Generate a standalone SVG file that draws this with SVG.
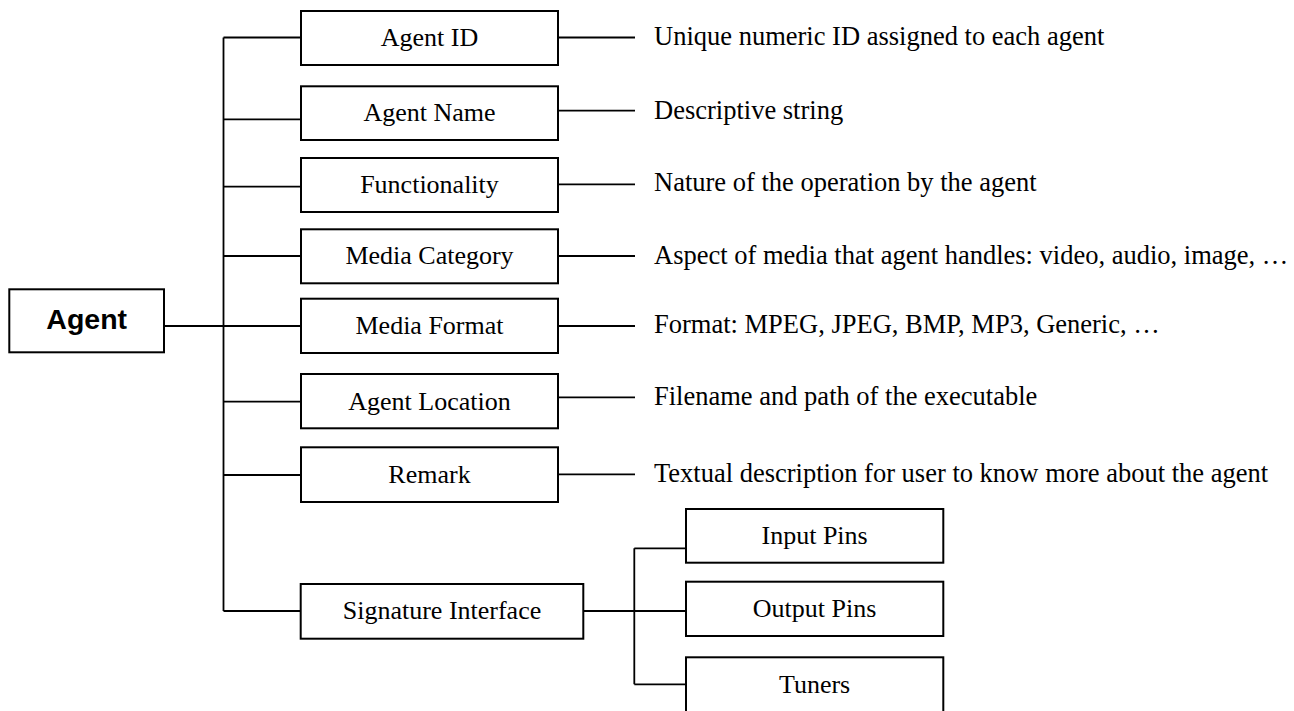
<svg xmlns="http://www.w3.org/2000/svg" width="1294" height="711" viewBox="0 0 1294 711">
<style>
.box{fill:#fff;stroke:#000;stroke-width:2}
.ln{fill:none;stroke:#000;stroke-width:1.8}
.t{font-family:"Liberation Serif","Times New Roman",serif;font-size:26px;fill:#000}
.d{font-size:26.5px}
.c{text-anchor:middle}
.b{font-family:"Liberation Sans",Arial,sans-serif;font-size:28.5px;font-weight:bold;fill:#000;text-anchor:middle}
</style>
<rect width="1294" height="711" fill="#fff"/>
<g id="connectors">
<path class="ln" d="M223.5,37.5 V611 M164,326 H232"/>
<path class="ln" d="M223.5,37.5 H301 M223.5,119.3 H301 M223.5,186.7 H301 M223.5,256 H301 M223.5,326 H301 M223.5,401.7 H301 M223.5,475 H301 M223.5,611 H301"/>
<path class="ln" d="M558,37.5 H635 M558,110.7 H635 M558,184.3 H635 M558,256 H635 M558,326 H635 M558,397.3 H635 M558,474.3 H635"/>
<path class="ln" d="M583.3,611 H686 M634.3,548.3 V684.3 M634.3,548.3 H686 M634.3,684.3 H686"/>
</g>
<g id="agent"><rect class="box" x="9.3" y="289.3" width="154.7" height="63"/><text class="b" x="86.7" y="329.3">Agent</text></g>
<g id="agent-id"><rect class="box" x="301" y="11" width="257" height="54"/><text class="t c" x="429.5" y="45.7">Agent ID</text></g>
<g id="agent-name"><rect class="box" x="301" y="86.3" width="257" height="53.7"/><text class="t c" x="429.5" y="121">Agent Name</text></g>
<g id="functionality"><rect class="box" x="301" y="158" width="257" height="54"/><text class="t c" x="429.5" y="193">Functionality</text></g>
<g id="media-category"><rect class="box" x="301" y="229.3" width="257" height="54"/><text class="t c" x="429.5" y="264.3">Media Category</text></g>
<g id="media-format"><rect class="box" x="301" y="298.7" width="257" height="54.3"/><text class="t c" x="429.5" y="334">Media Format</text></g>
<g id="agent-location"><rect class="box" x="301" y="374" width="257" height="54.3"/><text class="t c" x="429.5" y="409.5">Agent Location</text></g>
<g id="remark"><rect class="box" x="301" y="447.3" width="257" height="54.7"/><text class="t c" x="429.5" y="482.7">Remark</text></g>
<g id="signature-interface"><rect class="box" x="300.7" y="584" width="282.6" height="54.7"/><text class="t c" x="442" y="619.3">Signature Interface</text></g>
<g id="input-pins"><rect class="box" x="686" y="509" width="257.3" height="53.7"/><text class="t c" x="814.6" y="544">Input Pins</text></g>
<g id="output-pins"><rect class="box" x="686" y="581.7" width="257.3" height="54.3"/><text class="t c" x="814.6" y="617">Output Pins</text></g>
<g id="tuners"><rect class="box" x="686" y="657.3" width="257.3" height="60"/><text class="t c" x="814.6" y="692.7">Tuners</text></g>
<g id="descriptions">
<text class="t d" x="654" y="45">Unique numeric ID assigned to each agent</text>
<text class="t d" x="654" y="119">Descriptive string</text>
<text class="t d" x="654" y="191">Nature of the operation by the agent</text>
<text class="t d" x="654" y="264">Aspect of media that agent handles: video, audio, image, …</text>
<text class="t d" x="654" y="333.3">Format: MPEG, JPEG, BMP, MP3, Generic, …</text>
<text class="t d" x="654" y="405">Filename and path of the executable</text>
<text class="t d" x="654" y="481.7">Textual description for user to know more about the agent</text>
</g>
</svg>
